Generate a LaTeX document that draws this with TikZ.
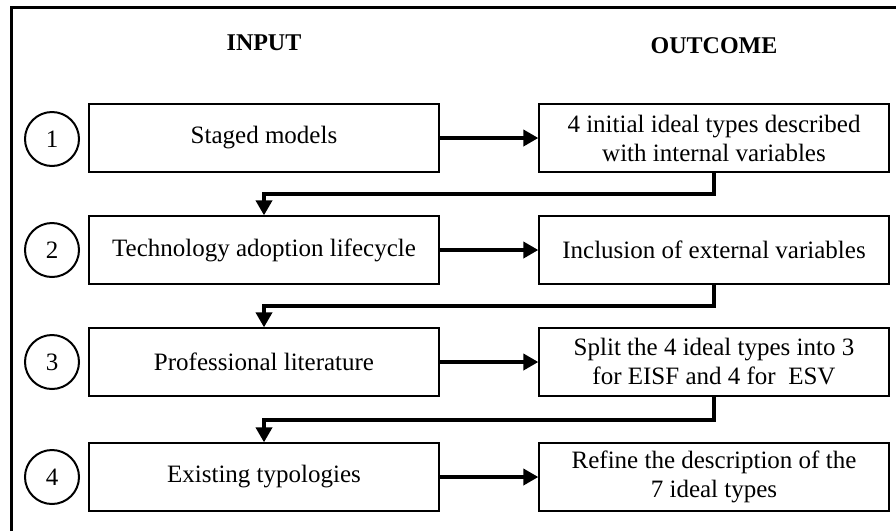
\documentclass[tikz,border=0pt]{standalone}
\usepackage{fontspec}
\setmainfont{Liberation Serif}
\usetikzlibrary{arrows.meta,calc}
\begin{document}
\begin{tikzpicture}[x=1pt,y=-1pt,
  box/.style={draw=black, line width=1.3pt, minimum width=350pt, minimum height=68pt, inner sep=0pt, align=center, font=\fontsize{25}{29}\selectfont},
  num/.style={draw, circle, line width=2pt, minimum size=54pt, inner sep=0pt, font=\fontsize{25}{29}\selectfont},
  hdr/.style={font=\fontsize{24}{28}\selectfont\bfseries},
  conn/.style={line width=4pt, -{Triangle[length=15pt,width=16pt]}},
]
\useasboundingbox (0,0) rectangle (896,531);
\draw[line width=3pt] (11,531) -- (11,7) -- (896,7);

\node[hdr] (hin) at (264,43) {INPUT};
\node[hdr] (hout) at (714,46) {OUTCOME};

\node[box] (l1) at (264,138) {Staged models};
\node[box] (r1) at (714,138) {4 initial ideal types described\\with internal variables};
\node[num] (c1) at (52,139) {1};

\node[box] (l2) at (264,250) {Technology adoption lifecycle};
\node[box] (r2) at (714,250) {Inclusion of external variables};
\node[num] (c2) at (52,250) {2};

\node[box] (l3) at (264,362) {Professional literature};
\node[box] (r3) at (714,362) {Split the 4 ideal types into 3\\for EISF and 4 for\ \ ESV};
\node[num] (c3) at (52,362) {3};

\node[box] (l4) at (264,477) {Existing typologies};
\node[box] (r4) at (714,477) {Refine the description of the\\7 ideal types};
\node[num] (c4) at (52,477) {4};

\draw[conn] (l1) -- (r1);
\draw[conn] (l2) -- (r2);
\draw[conn] (l3) -- (r3);
\draw[conn] (l4) -- (r4);

\coordinate (m1) at ($(r1.south)!.5!(l2.north)$);
\coordinate (m2) at ($(r2.south)!.5!(l3.north)$);
\coordinate (m3) at ($(r3.south)!.5!(l4.north)$);
\draw[conn] (r1.south) -- (r1.south |- m1) -| (l2.north);
\draw[conn] (r2.south) -- (r2.south |- m2) -| (l3.north);
\draw[conn] (r3.south) -- (r3.south |- m3) -| (l4.north);
\end{tikzpicture}
\end{document}
